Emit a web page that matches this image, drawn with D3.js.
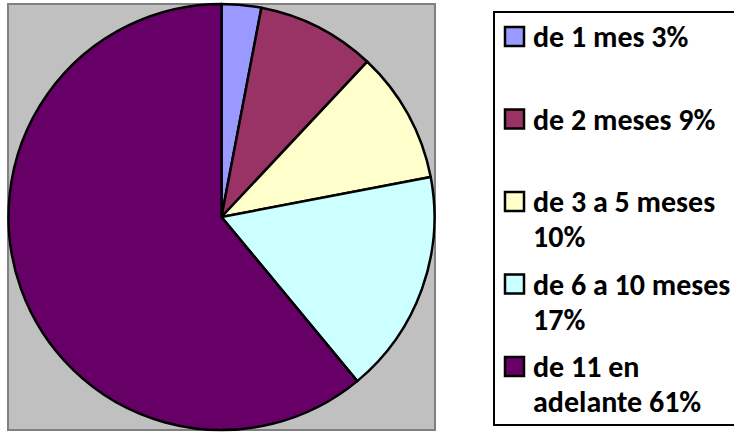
<!DOCTYPE html>
<html>
<head>
<meta charset="utf-8">
<script src="https://cdn.jsdelivr.net/npm/d3@7"></script>
<style>
    html, body { margin: 0; padding: 0; background: #fff; }
    svg { display: block; }
    .legend text { font-family: Carlito, Calibri, Lato, sans-serif; font-weight: bold; font-size: 30px; fill: #000; }
</style>
</head>
<body>
<svg width="734" height="432"></svg>
<script>
const categories = ["de 1 mes", "de 2 meses", "de 3 a 5 meses", "de 6 a 10 meses", "de 11 en adelante"];
const values = [3, 9, 10, 17, 61];
const legendLines = [
    ["de 1 mes 3%"],
    ["de 2 meses 9%"],
    ["de 3 a 5 meses", "10%"],
    ["de 6 a 10 meses", "17%"],
    ["de 11 en", "adelante 61%"]
];
const sliceColors = ["#9999FF", "#993366", "#FFFFCC", "#CCFFFF", "#660066"];

const svg = d3.select("svg");

// plot area
svg.append("rect")
    .attr("x", 8).attr("y", 4)
    .attr("width", 427).attr("height", 426)
    .attr("fill", "#C0C0C0")
    .attr("stroke", "#808080")
    .attr("stroke-width", 2);

const cx = 221.5, cy = 217, radius = 213;

const color = d3.scaleOrdinal().domain(categories).range(sliceColors);

const pie = d3.pie()
    .sort(null)
    .value(d => d.value);

const arc = d3.arc().innerRadius(0).outerRadius(radius);

const data = categories.map((c, i) => ({category: c, value: values[i]}));

svg.append("g")
    .attr("transform", `translate(${cx},${cy})`)
    .selectAll("path")
    .data(pie(data))
    .enter().append("path")
    .attr("d", arc)
    .attr("fill", d => color(d.data.category))
    .attr("stroke", "#000")
    .attr("stroke-width", 2.5)
    .attr("stroke-linejoin", "round");

// legend
const legend = svg.append("g").attr("class", "legend");

legend.append("rect")
    .attr("x", 494).attr("y", 12)
    .attr("width", 260).attr("height", 413)
    .attr("fill", "#fff")
    .attr("stroke", "#000")
    .attr("stroke-width", 2);

const rowY = d3.scaleLinear().domain([0, categories.length - 1]).range([47, 377]);
const lineHeight = 35;

const item = legend.selectAll("g.item")
    .data(data)
    .enter().append("g")
    .attr("class", "item")
    .attr("transform", (d, i) => `translate(0,${rowY(i)})`);

item.append("rect")
    .attr("x", 505).attr("y", -20)
    .attr("width", 19).attr("height", 19)
    .attr("fill", d => color(d.category))
    .attr("stroke", "#000")
    .attr("stroke-width", 2.5);

item.append("text")
    .attr("x", 533)
    .selectAll("tspan")
    .data((d, i) => legendLines[i])
    .enter().append("tspan")
    .attr("x", 533)
    .attr("y", (t, j) => j * lineHeight)
    .text(t => t);
</script>
</body>
</html>
